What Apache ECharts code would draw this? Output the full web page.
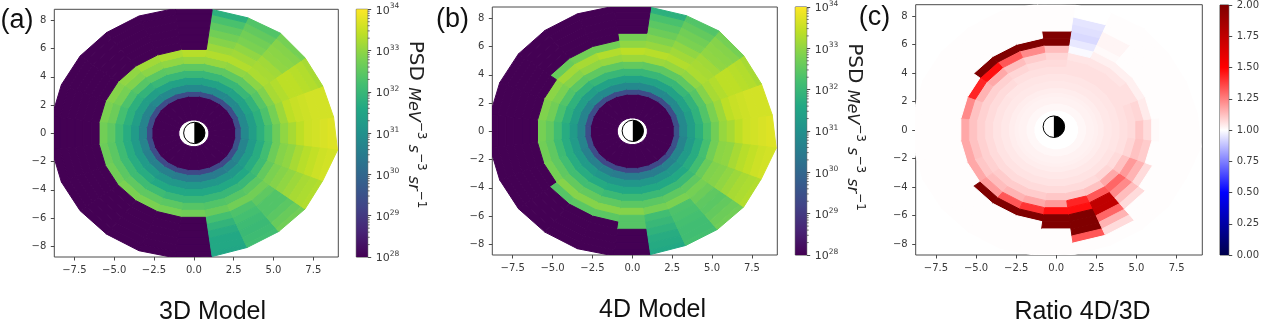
<!DOCTYPE html>
<html><head><meta charset="utf-8">
<style>html,body{margin:0;padding:0;background:#fff}#c{width:1262px;height:321px;filter:blur(0.45px)}</style>
<script src="https://cdn.jsdelivr.net/npm/echarts@6/dist/echarts.min.js"></script>
</head><body><div id="c"></div>
<script>
// radial bin edges (R_E) and sector centres (degrees, 15 degree wide)
const rEdges=[0.95,2.65,3,3.5,4,4.5,5,5.5,6,6.5,7,7.5,8,8.5,8.9];
const rEdgesRatio=[0.95,1.4,1.9,2.4,2.65,3,3.5,4,4.5,5,5.5,6,6.5,7,7.5,8,8.5,8.9];
const sectorAngles=[0,15,30,45,60,75,90,105,120,135,150,165,180,195,210,225,240,255,270,285,300,315,330,345];
// radius of the outer rim at the lower boundary of each sector
const rimRadius=[9.1,8.85,8.76,8.8,8.94,8.86,8.85,8.93,9,9,9,9,9,9,9,9,9,9,8.9,8.8,8.75,8.76,8.8,8.76];
// log10 PSD, one row per sector, one column per radial bin
const psd3D=[
[28,29.5,30.8,31.35,31.8,32.2,32.65,33.0,33.2,33.4,33.55,33.6,33.65,33.7],
[28,29.4,30.8,31.35,31.8,32.3,32.75,33.1,33.4,33.5,33.55,33.6,33.6,33.6],
[28,29.4,30.8,31.45,31.9,32.4,32.85,33.2,33.3,33.4,33.4,33.35,33.3,33.2],
[28,29.4,30.8,31.45,32.0,32.5,32.95,33.25,33.2,33.15,33.0,32.95,32.9,32.75],
[28,29.4,30.8,31.45,32.0,32.5,33.0,33.3,33.15,33.0,32.8,32.7,32.55,32.35],
[28,29.4,30.8,31.45,32.0,32.5,33.05,33.3,33.1,32.9,32.7,32.5,32.25,31.8],
[28,29.4,30.8,31.45,32.0,32.5,33.05,33.35,28,28,28,28,28,28],
[28,29.4,30.8,31.45,32.0,32.5,33.0,33.25,28,28,28,28,28,28],
[28,29.4,30.8,31.45,32.0,32.45,32.95,33.15,28,28,28,28,28,28],
[28,29.4,30.8,31.35,31.9,32.4,32.85,33.0,28,28,28,28,28,28],
[28,29.4,30.7,31.35,31.8,32.3,32.75,32.9,28,28,28,28,28,28],
[28,29.4,30.7,31.35,31.8,32.2,32.65,32.8,28,28,28,28,28,28],
[28,29.4,30.7,31.25,31.7,32.1,32.5,32.7,28,28,28,28,28,28],
[28,29.4,30.7,31.25,31.7,32.1,32.45,32.65,28,28,28,28,28,28],
[28,29.4,30.6,31.25,31.7,32.1,32.45,32.7,28,28,28,28,28,28],
[28,29.3,30.6,31.25,31.7,32.1,32.5,32.8,28,28,28,28,28,28],
[28,29.3,30.6,31.15,31.6,32.1,32.5,32.8,28,28,28,28,28,28],
[28,29.3,30.5,31.15,31.6,32.0,32.45,32.75,28,28,28,28,28,28],
[28,29.3,30.5,31.15,31.6,32.0,32.4,32.7,28,28,28,28,28,28],
[28,29.3,30.5,31.15,31.6,32.0,32.35,32.6,32.2,31.9,31.7,31.6,31.6,31.55],
[28,29.3,30.5,31.15,31.6,32.0,32.4,32.7,32.3,32.2,32.1,32.05,32.1,32.15],
[28,29.3,30.6,31.15,31.6,32.0,32.45,32.7,32.5,32.35,32.35,32.45,32.6,32.7],
[28,29.4,30.7,31.25,31.7,32.1,32.55,32.8,32.9,33.0,33.1,33.2,33.25,33.3],
[28,29.5,30.7,31.25,31.7,32.15,32.65,32.9,33.0,33.2,33.35,33.45,33.55,33.6]];
const psd4D=[
[28,29.5,30.8,31.35,31.8,32.25,32.7,33.05,33.2,33.4,33.55,33.6,33.65,33.7],
[28,29.4,30.8,31.35,31.85,32.35,32.8,33.1,33.4,33.5,33.55,33.6,33.6,33.6],
[28,29.4,30.8,31.45,31.9,32.4,32.9,33.2,33.3,33.4,33.4,33.35,33.3,33.2],
[28,29.4,30.8,31.45,32.0,32.5,33.0,33.25,33.2,33.15,33.0,32.95,32.9,32.75],
[28,29.4,30.8,31.45,32.0,32.5,33.05,33.3,33.15,33.0,32.8,32.7,32.55,32.35],
[28,29.4,30.8,31.45,32.0,32.5,33.1,33.35,33.05,32.85,32.65,32.45,32.25,31.8],
[28,29.4,30.8,31.45,32.0,32.55,33.1,33.4,33.0,32.75,28,28,28,28],
[28,29.4,30.8,31.45,32.0,32.5,33.05,33.3,32.7,28,28,28,28,28],
[28,29.4,30.8,31.45,32.0,32.5,33.0,33.2,32.7,28,28,28,28,28],
[28,29.4,30.8,31.35,31.9,32.45,32.9,33.15,32.6,28,28,28,28,28],
[28,29.4,30.7,31.35,31.85,32.35,32.8,32.95,28,28,28,28,28,28],
[28,29.4,30.7,31.35,31.8,32.25,32.7,32.85,28,28,28,28,28,28],
[28,29.4,30.7,31.25,31.7,32.15,32.55,32.75,28,28,28,28,28,28],
[28,29.4,30.7,31.25,31.7,32.1,32.5,32.7,28,28,28,28,28,28],
[28,29.4,30.6,31.25,31.7,32.15,32.5,32.75,28,28,28,28,28,28],
[28,29.3,30.6,31.25,31.7,32.15,32.55,32.9,32.4,28,28,28,28,28],
[28,29.3,30.6,31.15,31.65,32.15,32.55,32.9,32.45,28,28,28,28,28],
[28,29.3,30.5,31.15,31.6,32.05,32.5,32.9,32.45,28,28,28,28,28],
[28,29.3,30.5,31.15,31.6,32.05,32.45,32.9,32.4,32.4,28,28,28,28],
[28,29.3,30.5,31.15,31.6,32.05,32.45,32.75,32.15,32.0,31.85,31.7,31.65,31.6],
[28,29.3,30.5,31.15,31.6,32.05,32.5,32.8,32.3,32.25,32.2,32.15,32.15,32.2],
[28,29.3,30.6,31.15,31.6,32.05,32.5,32.75,32.65,32.5,32.45,32.55,32.65,32.7],
[28,29.4,30.7,31.25,31.7,32.15,32.6,32.85,32.9,33.0,33.1,33.2,33.25,33.3],
[28,29.5,30.7,31.25,31.7,32.2,32.7,32.95,33.0,33.2,33.35,33.45,33.55,33.6]];
// ratio 4D / 3D, one row per sector, columns follow rEdgesRatio
const ratio=[
[1,1.015,1.025,1.03,1.035,1.045,1.05,1.06,1.07,1.11,1.07,1.01,1.004,1.004,1.004,1.004,1.004],
[1,1.015,1.025,1.03,1.035,1.045,1.05,1.06,1.07,1.08,1.04,1.004,1.004,1.004,1.004,1.004,1.004],
[1,1.015,1.025,1.03,1.035,1.045,1.05,1.06,1.06,1.06,1.03,1.004,1.004,1.004,1.004,1.004,1.004],
[1,1.015,1.025,1.03,1.035,1.045,1.05,1.06,1.06,1.05,1.03,1.004,1.004,1.004,1.004,1.004,1.004],
[1,1.015,1.025,1.03,1.035,1.045,1.05,1.06,1.06,1.05,1.03,1.01,1.02,1.02,1.004,1.004,1.004],
[1,1.015,1.025,1.03,1.035,1.045,1.05,1.06,1.06,1.05,0.99,0.955,0.925,0.94,0.95,1,1],
[1,1.015,1.025,1.03,1.035,1.045,1.05,1.06,1.07,1.08,1.13,2,2,1.004,1.004,1.004,1.004],
[1,1.015,1.025,1.03,1.035,1.045,1.05,1.06,1.07,1.1,1.23,2,1.004,1.004,1.004,1.004,1.004],
[1,1.015,1.025,1.03,1.035,1.045,1.05,1.06,1.08,1.13,1.33,2,1.004,1.004,1.004,1.004,1.004],
[1,1.015,1.025,1.03,1.035,1.045,1.05,1.07,1.09,1.17,1.47,2,1.004,1.004,1.004,1.004,1.004],
[1,1.015,1.025,1.03,1.035,1.045,1.055,1.07,1.09,1.15,1.43,1.004,1.004,1.004,1.004,1.004,1.004],
[1,1.015,1.025,1.03,1.035,1.045,1.055,1.07,1.09,1.12,1.23,1.004,1.004,1.004,1.004,1.004,1.004],
[1,1.015,1.025,1.03,1.035,1.045,1.055,1.07,1.09,1.12,1.17,1.004,1.004,1.004,1.004,1.004,1.004],
[1,1.015,1.025,1.03,1.035,1.045,1.055,1.07,1.09,1.12,1.17,1.004,1.004,1.004,1.004,1.004,1.004],
[1,1.015,1.025,1.03,1.035,1.045,1.055,1.07,1.09,1.11,1.17,1.004,1.004,1.004,1.004,1.004,1.004],
[1,1.015,1.025,1.03,1.035,1.045,1.055,1.07,1.1,1.13,1.2,2,1.004,1.004,1.004,1.004,1.004],
[1,1.015,1.025,1.03,1.035,1.045,1.055,1.07,1.1,1.15,1.33,2,1.004,1.004,1.004,1.004,1.004],
[1,1.015,1.025,1.03,1.035,1.045,1.055,1.07,1.1,1.17,1.4,2,1.004,1.004,1.004,1.004,1.004],
[1,1.015,1.025,1.03,1.035,1.045,1.055,1.07,1.11,1.2,1.47,2,2,1.004,1.004,1.004,1.004],
[1,1.015,1.025,1.03,1.035,1.045,1.055,1.07,1.11,1.43,1.47,2,2,2,1.33,1.004,1.004],
[1,1.015,1.025,1.03,1.035,1.045,1.055,1.07,1.12,1.33,1.75,1.75,1.3,1.15,1.07,1.004,1.004],
[1,1.015,1.025,1.03,1.035,1.045,1.055,1.08,1.17,1.3,1.23,1.13,1.07,1.004,1.004,1.004,1.004],
[1,1.015,1.025,1.03,1.035,1.045,1.055,1.07,1.12,1.2,1.15,1.07,1.004,1.004,1.004,1.004,1.004],
[1,1.015,1.025,1.03,1.035,1.045,1.05,1.06,1.08,1.12,1.1,1.004,1.004,1.004,1.004,1.004,1.004]];
// axis ticks and labels
const xTicks=[-7.5,-5,-2.5,0,2.5,5,7.5];
const yTicks=[-8,-6,-4,-2,0,2,4,6,8];
const psdTicks=[28,29,30,31,32,33,34];
const ratioTicks=[0,0.25,0.5,0.75,1,1.25,1.5,1.75,2];
const minorLog=[0.301,0.477,0.602,0.699,0.778,0.845,0.903,0.954];
const panelNames=['(a)','(b)','(c)'];
const modelNames=['3D Model','4D Model','Ratio 4D/3D'];
const psdLabel='{p|PSD }{i|MeV}{s|−3}{i| s}{s|−3}{i| sr}{s|−1}';
const viridis=['#440154','#482475','#414487','#355f8d','#2a788e','#21918c','#22a884','#44bf70','#7ad151','#bddf26','#fde725'];
const seismic=['#00004c','#0000ff','#ffffff','#ff0000','#800000'];
// panel geometry [left, top, right edge, bottom edge] in px, and axis limits
const panels=[
 {box:[54.3,9.3,338.3,257],xl:[-8.76,9.07],yl:[-8.76,8.79],earth:[0.03,0.03],bar:[356.3,9.3,367.7,257],data:psd3D,edges:rEdges,cm:viridis,rng:[28,34]},
 {box:[492.3,7,777.3,255],xl:[-8.78,9.09],yl:[-8.76,8.8],earth:[0.03,0.03],bar:[795.3,7,806.7,255],data:psd4D,edges:rEdges,cm:viridis,rng:[28,34]},
 {box:[915.7,4.7,1202.3,255],xl:[-8.76,9.1],yl:[-8.77,8.79],earth:[-0.15,0.23],bar:[1220,5,1231.7,255],data:ratio,edges:rEdgesRatio,cm:seismic,rng:[0,2]}
];
const earthR=0.67, W=1262, H=321, frame='#4a4a4a', ink='#3a3a3a';
const fmt=v=>String(v).replace('-','−');
const fixed1=v=>v===0?'0.0':fmt(v.toFixed(1));

function cellItem(p,api){
  const s=api.value(0),b=api.value(1),ed=p.edges,last=b===ed.length-2;
  const a0=(sectorAngles[s]-7.5)*Math.PI/180,a1=(sectorAngles[s]+7.5)*Math.PI/180;
  const r0=ed[b];
  const rl=last?rimRadius[s]:ed[b+1], ru=last?rimRadius[(s+1)%24]:ed[b+1];
  const pts=[[r0,a0],[rl,a0],[ru,a1],[r0,a1]].map(q=>api.coord([q[0]*Math.cos(q[1]),q[0]*Math.sin(q[1])]));
  const c=api.visual('color');
  return {type:'polygon',shape:{points:pts},style:{fill:c,stroke:c,lineWidth:1}};
}
const grid=[],xAxis=[],yAxis=[],series=[],visualMap=[];
panels.forEach((p,i)=>{
  const g=2*i,gb=2*i+1;
  grid.push({left:p.box[0],top:p.box[1],width:p.box[2]-p.box[0],height:p.box[3]-p.box[1],show:true,borderColor:frame,borderWidth:1,backgroundColor:'#fff'});
  grid.push({left:p.bar[0],top:p.bar[1],width:p.bar[2]-p.bar[0],height:p.bar[3]-p.bar[1],show:true,borderColor:frame,borderWidth:1});
  const lab={color:ink,fontFamily:'DejaVu Sans',fontSize:10,margin:8};
  const ln={show:false,onZero:false}, tk={length:3.5,lineStyle:{width:1,color:frame}};
  xAxis.push({gridIndex:g,type:'value',min:p.xl[0],max:p.xl[1],axisLine:ln,splitLine:{show:false},
    axisTick:{...tk,customValues:xTicks},axisLabel:{...lab,customValues:xTicks,formatter:fixed1,showMinLabel:true,showMaxLabel:true}});
  yAxis.push({gridIndex:g,type:'value',min:p.yl[0],max:p.yl[1],axisLine:ln,splitLine:{show:false},
    axisTick:{...tk,customValues:yTicks},axisLabel:{...lab,customValues:yTicks,formatter:fmt,showMinLabel:true,showMaxLabel:true}});
  xAxis.push({gridIndex:gb,type:'value',min:0,max:1,show:false});
  const isPsd=i<2;
  yAxis.push({gridIndex:gb,type:'value',position:'right',min:p.rng[0],max:p.rng[1],axisLine:ln,splitLine:{show:false},
    axisTick:{...tk,customValues:isPsd?psdTicks:ratioTicks},
    axisLabel:{...lab,margin:8,customValues:isPsd?psdTicks:ratioTicks,showMinLabel:true,showMaxLabel:true,
      formatter:isPsd?(v=>'{n|10}{s|'+v+'}'):(v=>v.toFixed(2)),
      rich:{n:{fontFamily:'DejaVu Sans',fontSize:11,color:ink,lineHeight:14,verticalAlign:'bottom'},s:{fontFamily:'DejaVu Sans',fontSize:7.5,color:ink,lineHeight:9,verticalAlign:'top'}}}});
  // cells
  const items=[];
  p.data.forEach((row,s)=>row.forEach((v,b)=>items.push([s,b,v])));
  const idx=series.length;
  series.push({type:'custom',xAxisIndex:g,yAxisIndex:g,clip:true,silent:true,animation:false,data:items,
    encode:{x:0,y:1},renderItem:(ps,api)=>cellItem(p,api)});
  visualMap.push({show:false,seriesIndex:idx,dimension:2,min:p.rng[0],max:p.rng[1],inRange:{color:p.cm}});
  // earth
  series.push({type:'custom',xAxisIndex:g,yAxisIndex:g,silent:true,animation:false,data:[p.earth],z:5,
    renderItem:(ps,api)=>{
      const c=api.coord([api.value(0),api.value(1)]),r=api.size([earthR,0])[0];
      return {type:'group',children:[
        {type:'circle',shape:{cx:c[0],cy:c[1],r:r},style:{fill:'#fff',stroke:'#000',lineWidth:1}},
        {type:'sector',shape:{cx:c[0],cy:c[1],r0:0,r:r,startAngle:-Math.PI/2,endAngle:Math.PI/2,clockwise:true},style:{fill:'#000'}}
      ]};
    }});
  // colour bar
  const st=p.cm.map((c,k)=>({offset:1-k/(p.cm.length-1),color:c}));
  series.push({type:'custom',xAxisIndex:gb,yAxisIndex:gb,silent:true,animation:false,data:[[0,p.rng[0],1,p.rng[1]]],
    renderItem:(ps,api)=>{
      const a=api.coord([api.value(0),api.value(3)]),b=api.coord([api.value(2),api.value(1)]);
      return {type:'rect',shape:{x:a[0],y:a[1],width:b[0]-a[0],height:b[1]-a[1]},
        style:{fill:new echarts.graphic.LinearGradient(0,0,0,1,st)}};
    }});
  if(isPsd){
    const minor=[];
    psdTicks.slice(0,-1).forEach(d=>minorLog.forEach(m=>minor.push([1,d+m])));
    series.push({type:'custom',xAxisIndex:gb,yAxisIndex:gb,silent:true,animation:false,clip:false,data:minor,z:6,
      renderItem:(ps,api)=>{
        const c=api.coord([api.value(0),api.value(1)]);
        return {type:'line',shape:{x1:c[0],y1:c[1],x2:c[0]+2,y2:c[1]},style:{stroke:frame,lineWidth:0.8}};
      }});
  }
});
const sans='"Liberation Sans",Arial,sans-serif';
const txt=(t,x,y,size)=>({type:'text',x:x,y:y,style:{text:t,fontFamily:sans,fontSize:size,fill:'#111',align:'center',verticalAlign:'middle'}});
const ylab=(x,y)=>({type:'text',x:x,y:y,rotation:-Math.PI/2,style:{text:psdLabel,align:'center',verticalAlign:'middle',
  rich:{p:{fontFamily:'DejaVu Sans',fontSize:20,fill:'#222',lineHeight:22,verticalAlign:'bottom'},
        i:{fontFamily:'DejaVu Sans',fontStyle:'italic',fontSize:16,fill:'#222',lineHeight:22,verticalAlign:'bottom'},
        s:{fontFamily:'DejaVu Sans',fontSize:12,fill:'#222',lineHeight:14,verticalAlign:'top'}}}});
const graphic=[
 txt(panelNames[0],17,21,27),txt(panelNames[1],452.5,19.5,27),txt(panelNames[2],874.5,18,27),
 txt(modelNames[0],212.5,312,25),txt(modelNames[1],652.5,310,25),txt(modelNames[2],1082.5,312,25),
 ylab(416.5,124.5),ylab(855,127)
];
const chart=echarts.init(document.getElementById('c'),null,{width:W,height:H,renderer:'canvas'});
chart.setOption({animation:false,backgroundColor:'#fff',grid,xAxis,yAxis,series,visualMap,graphic});
</script></body></html>
